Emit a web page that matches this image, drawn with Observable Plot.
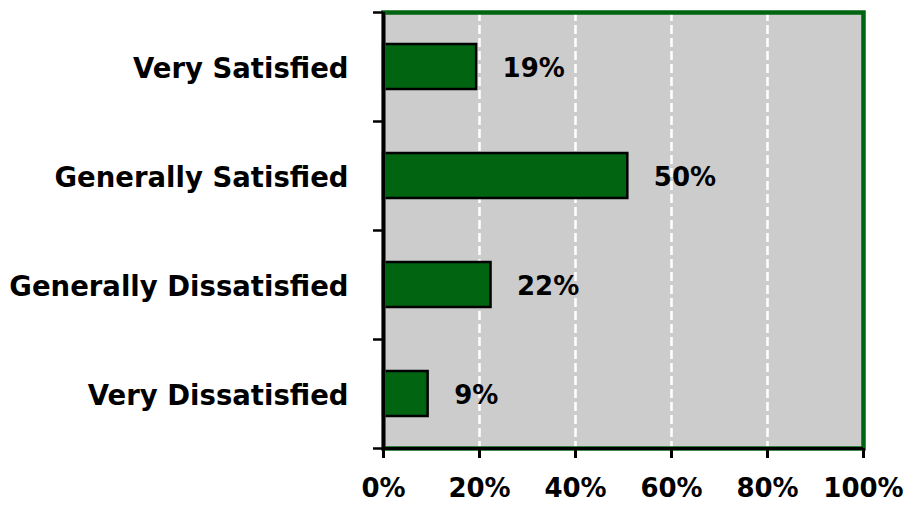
<!DOCTYPE html>
<html>
<head>
<meta charset="utf-8">
<script src="https://cdn.jsdelivr.net/npm/d3@7"></script>
<script src="https://cdn.jsdelivr.net/npm/@observablehq/plot@0.6"></script>
<style>
  html, body { margin: 0; padding: 0; background: #ffffff; }
  #chart { width: 906px; height: 508px; }
</style>
</head>
<body>
<div id="chart"></div>
<script>
const categories = ["Very Satisfied", "Generally Satisfied", "Generally Dissatisfied", "Very Dissatisfied"];
const values = [19.4, 50.9, 22.4, 9.3];
const valueLabels = ["19%", "50%", "22%", "9%"];
const xTicks = [0, 20, 40, 60, 80, 100];
const gridTicks = [20, 40, 60, 80];
const yBoundaries = [0, 1, 2, 3, 4];

const data = categories.map((c, i) => ({category: c, value: values[i], label: valueLabels[i], i}));

const green = "#006411";

const chart = Plot.plot({
  width: 906,
  height: 508,
  marginLeft: 383,
  marginRight: 43,
  marginTop: 12,
  marginBottom: 60,
  style: {fontFamily: "'DejaVu Sans', sans-serif", fontSize: "26px", fontWeight: "bold", color: "#000", background: "#ffffff"},
  x: {domain: [0, 100]},
  y: {domain: [0, 4], reverse: true},
  marks: [
    Plot.frame({fill: "#cccccc", stroke: null}),
    Plot.ruleX(gridTicks, {stroke: "#ffffff", strokeWidth: 2.5, strokeDasharray: "9,4"}),
    Plot.rectX(data, {x1: 0, x2: "value", y1: d => d.i, y2: d => d.i + 1, insetTop: 32, insetBottom: 32, fill: green, stroke: "#000000", strokeWidth: 2.5}),
    Plot.text(data, {x: "value", y: d => d.i + 0.5, text: "label", textAnchor: "start", dx: 26, dy: 2, fill: "#000", fontSize: 26, fontWeight: "bold"}),
    Plot.text(data, {x: 0, y: d => d.i + 0.5, text: "category", textAnchor: "end", dx: -35, dy: 2, fill: "#000", fontSize: 27.5, fontWeight: "bold"}),
    Plot.frame({stroke: green, strokeWidth: 4.5}),
    Plot.ruleX([0], {stroke: "#000", strokeWidth: 3}),
    Plot.ruleY([4], {stroke: "#000", strokeWidth: 3}),
    Plot.axisY({ticks: yBoundaries, tickSize: 10, tickFormat: () => "", strokeWidth: 2.5, label: null}),
    Plot.axisX({ticks: xTicks, tickSize: 10, tickPadding: 20, tickFormat: d => d + "%", strokeWidth: 3, label: null, fontSize: 26, fontWeight: "bold"})
  ]
});
document.getElementById("chart").appendChild(chart);
</script>
</body>
</html>
